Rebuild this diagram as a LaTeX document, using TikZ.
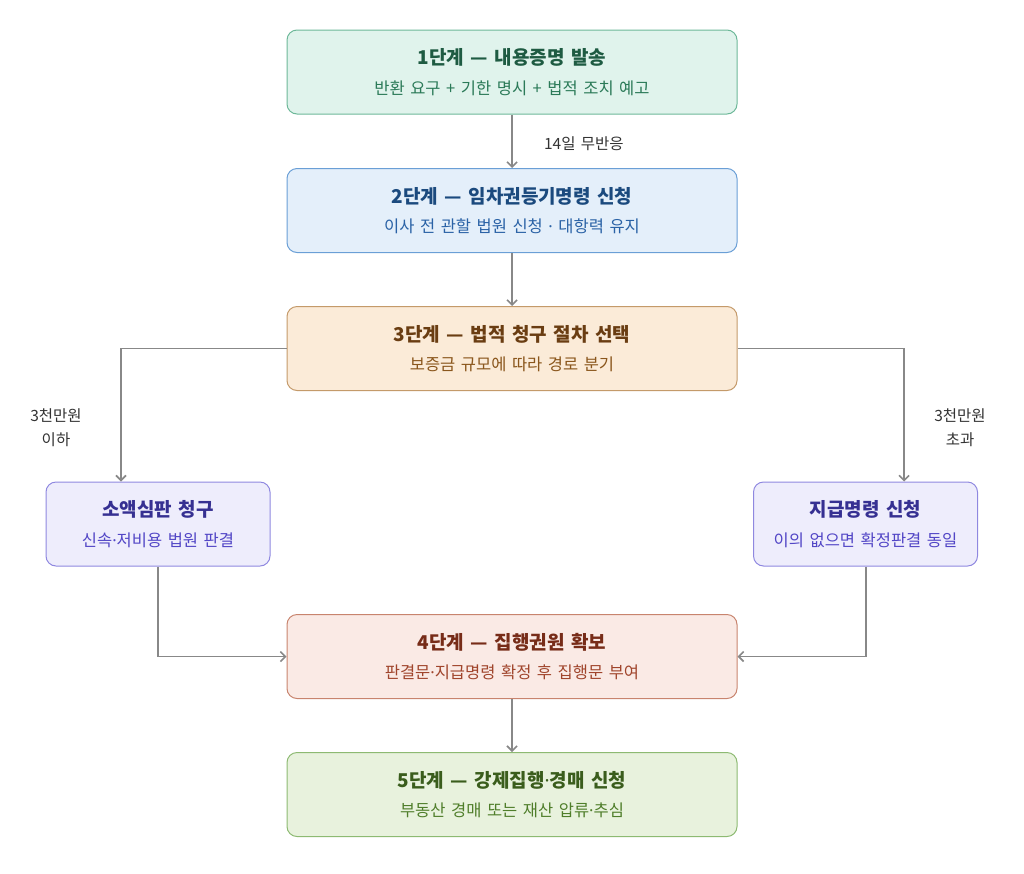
\documentclass[tikz,border=0pt]{standalone}
\usepackage{fontspec}
\setmainfont[WordSpace=1.5]{Noto Sans CJK KR}
\newfontfamily\latinfont{Noto Sans}
\usetikzlibrary{arrows.meta}
\definecolor{gA}{HTML}{E0F3EC}\definecolor{gAd}{HTML}{6DB899}\definecolor{gAt}{HTML}{1E5B42}\definecolor{gAs}{HTML}{2B7A58}
\definecolor{bA}{HTML}{E4EFFA}\definecolor{bAd}{HTML}{6A9FD6}\definecolor{bAt}{HTML}{1B4A7E}\definecolor{bAs}{HTML}{2A62A6}
\definecolor{oA}{HTML}{FBEBD8}\definecolor{oAd}{HTML}{C49A6A}\definecolor{oAt}{HTML}{6A3D12}\definecolor{oAs}{HTML}{8A561C}
\definecolor{pA}{HTML}{EEEDFC}\definecolor{pAd}{HTML}{8F88E0}\definecolor{pAt}{HTML}{363092}\definecolor{pAs}{HTML}{5246C6}
\definecolor{rA}{HTML}{FAEAE5}\definecolor{rAd}{HTML}{C8846E}\definecolor{rAt}{HTML}{772C18}\definecolor{rAs}{HTML}{A0452C}
\definecolor{lA}{HTML}{E8F2DD}\definecolor{lAd}{HTML}{8DBA72}\definecolor{lAt}{HTML}{3A5D1C}\definecolor{lAs}{HTML}{4F7E2A}
\definecolor{conn}{HTML}{888888}\definecolor{lbl}{HTML}{333333}
\tikzset{
  stepbox/.style={draw, line width=1pt, rounded corners=10pt, minimum height=84pt, align=center, inner sep=0pt},
  widebox/.style={stepbox, minimum width=450pt},
  sidebox/.style={stepbox, minimum width=224pt},
  conn/.style={draw=conn, line width=1.6pt, -{Straight Barb[length=5pt,width=10pt]}},
  lab/.style={text=lbl, font=\fontsize{15.5}{24}\selectfont, align=center},
}
\newcommand{\md}{{\latinfont ·}}
\newcommand{\ttl}[2]{{\color{#1}\fontsize{19}{22}\selectfont\bfseries #2}}
\newcommand{\sub}[2]{{\color{#1}\fontsize{16.5}{20}\selectfont #2}}
\begin{document}
\begin{tikzpicture}[x=1pt,y=-1pt]
\useasboundingbox (0,0) rectangle (1024,873);
\node[widebox, fill=gA, draw=gAd] (s1) at (512,72) {\ttl{gAt}{1단계 — 내용증명 발송}\\[13pt]\sub{gAs}{반환 요구 + 기한 명시 + 법적 조치 예고}};
\node[widebox, fill=bA, draw=bAd] (s2) at (512,210.5) {\ttl{bAt}{2단계 — 임차권등기명령 신청}\\[13pt]\sub{bAs}{이사 전 관할 법원 신청 \md{} 대항력 유지}};
\node[widebox, fill=oA, draw=oAd] (s3) at (512,348.5) {\ttl{oAt}{3단계 — 법적 청구 절차 선택}\\[13pt]\sub{oAs}{보증금 규모에 따라 경로 분기}};
\node[sidebox, fill=pA, draw=pAd] (sl) at (158,524) {\ttl{pAt}{소액심판 청구}\\[13pt]\sub{pAs}{신속\md{}저비용 법원 판결}};
\node[sidebox, fill=pA, draw=pAd] (sr) at (865.5,524) {\ttl{pAt}{지급명령 신청}\\[13pt]\sub{pAs}{이의 없으면 확정판결 동일}};
\node[widebox, fill=rA, draw=rAd] (s4) at (512,656.5) {\ttl{rAt}{4단계 — 집행권원 확보}\\[13pt]\sub{rAs}{판결문\md{}지급명령 확정 후 집행문 부여}};
\node[widebox, fill=lA, draw=lAd] (s5) at (512,794.5) {\ttl{lAt}{5단계 — 강제집행\md{}경매 신청}\\[13pt]\sub{lAs}{부동산 경매 또는 재산 압류\md{}추심}};
\coordinate (cl) at (121,348.5);
\coordinate (cr) at (904,348.5);
\coordinate (bl) at (158,656.5);
\coordinate (br) at (866,656.5);
\draw[conn] (s1.south) -- node[lab, right=28pt, pos=0.55] {14일 무반응} (s2.north);
\draw[conn] (s2.south) -- (s3.north);
\draw[conn] (s3.west) -- (cl) -- (cl |- sl.north);
\draw[conn] (s3.east) -- (cr) -- (cr |- sr.north);
\draw[conn] (sl.south -| bl) -- (bl) -- (s4.west);
\draw[conn] (sr.south -| br) -- (br) -- (s4.east);
\draw[conn] (s4.south) -- (s5.north);
\node[lab] (ll) at (56,428) {3천만원\\이하};
\node[lab] (rl) at (960,428) {3천만원\\초과};
\end{tikzpicture}
\end{document}
